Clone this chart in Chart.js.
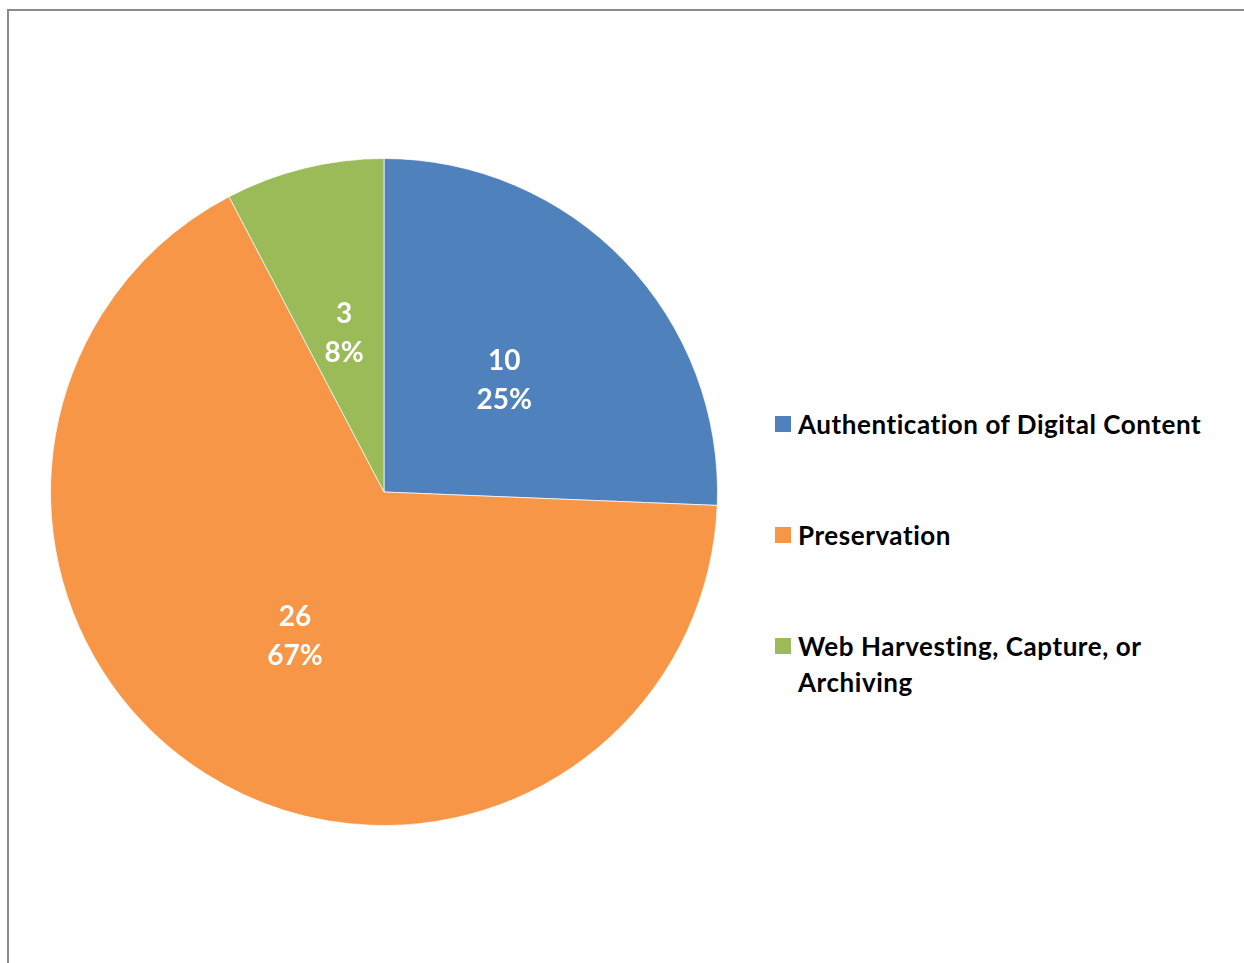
<!DOCTYPE html>
<html>
<head>
<meta charset="utf-8">
<script src="https://cdn.jsdelivr.net/npm/chart.js@4"></script>
<style>
    html, body { margin: 0; padding: 0; background: #fff; overflow: hidden; }
    body { width: 1244px; height: 963px; position: relative; font-family: Lato, "Open Sans", sans-serif; }
    .frame {
        position: absolute; left: 7px; top: 9px; width: 1300px; height: 1000px;
        border-left: 2px solid #8a8a8a; border-top: 2px solid #8a8a8a;
    }
    .pie-box { position: absolute; left: 50px; top: 158px; width: 668px; height: 668px; }
    .legend { position: absolute; left: 775px; top: 0; width: 469px; }
    .legend-item { position: absolute; left: 0; width: 469px; font-weight: 700; font-size: 26px; letter-spacing: 0.55px; line-height: 36px; color: #000; }
    .legend-item .swatch { position: absolute; left: 0; top: 10px; width: 16px; height: 16px; }
    .legend-item .txt { margin-left: 23px; display: block; }
</style>
</head>
<body>
<div class="frame"></div>
<div class="pie-box"><canvas id="pieChart"></canvas></div>
<div class="legend" id="legend"></div>

<script>
// ==========================================
// Data
// ==========================================

const CATEGORIES = ['Authentication of Digital Content', 'Preservation', 'Web Harvesting, Capture, or Archiving'];
const COUNTS = [10, 26, 3];
const PERCENT_LABELS = ['25%', '67%', '8%'];
const COLORS = ['#4F81BD', '#F79646', '#9BBB59'];

// legend rows (top of each text block, px) and wrapped label lines
const LEGEND_TOPS = [406, 517, 628];
const LEGEND_LINES = [['Authentication of Digital Content'], ['Preservation'], ['Web Harvesting, Capture, or', 'Archiving']];

// ==========================================
// Slice labels: count + percent, drawn at the arc centre point
// ==========================================

const sliceLabels = {
    id: 'sliceLabels',
    afterDatasetsDraw(chart) {
        const ctx = chart.ctx;
        const meta = chart.getDatasetMeta(0);
        ctx.save();
        ctx.fillStyle = '#ffffff';
        ctx.font = 'bold 28px Lato, "Open Sans", sans-serif';
        ctx.textAlign = 'center';
        ctx.textBaseline = 'middle';
        meta.data.forEach((arc, i) => {
            const p = arc.tooltipPosition();
            ctx.fillText(String(COUNTS[i]), p.x, p.y - 16);
            ctx.fillText(PERCENT_LABELS[i], p.x, p.y + 23);
        });
        ctx.restore();
    }
};

function buildLegend() {
    const box = document.getElementById('legend');
    CATEGORIES.forEach((name, i) => {
        const item = document.createElement('div');
        item.className = 'legend-item';
        item.style.top = LEGEND_TOPS[i] + 'px';
        item.innerHTML = `<span class="swatch" style="background:${COLORS[i]}"></span>` +
            `<span class="txt">${LEGEND_LINES[i].join('<br>')}</span>`;
        box.appendChild(item);
    });
}

function initChart() {
    const ctx = document.getElementById('pieChart').getContext('2d');
    new Chart(ctx, {
        type: 'pie',
        data: {
            labels: CATEGORIES,
            datasets: [{
                data: COUNTS,
                backgroundColor: COLORS,
                borderColor: 'rgba(255,255,255,0.7)',
                borderWidth: 1
            }]
        },
        options: {
            responsive: true,
            maintainAspectRatio: false,
            animation: false,
            layout: { padding: 0 },
            plugins: {
                legend: { display: false },
                tooltip: { enabled: false }
            }
        },
        plugins: [sliceLabels]
    });
    buildLegend();
}

document.addEventListener('DOMContentLoaded', initChart);
</script>
</body>
</html>
